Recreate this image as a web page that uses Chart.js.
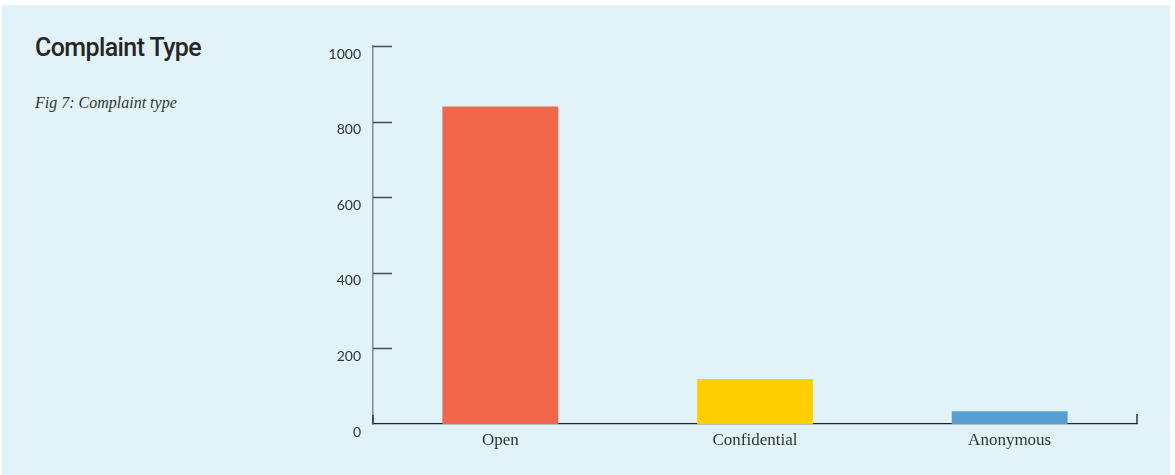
<!DOCTYPE html>
<html>
<head>
<meta charset="utf-8">
<script src="https://cdn.jsdelivr.net/npm/chart.js@4.4.1/dist/chart.umd.min.js"></script>
<style>
  html, body { margin: 0; padding: 0; background: #ffffff; width: 1175px; height: 475px; overflow: hidden; }
  #panel { position: absolute; left: 2px; top: 5px; width: 1168px; height: 470px; background: #e1f3f8; }
  #wrap { position: absolute; left: 0; top: 0; width: 1175px; height: 475px; }
  #title { position: absolute; left: 35px; top: 34px; font-family: Roboto, sans-serif; font-weight: 500; font-size: 25px; line-height: 28px; color: #262626; letter-spacing: -0.6px; white-space: nowrap; }
  #sub { position: absolute; left: 35px; top: 94px; font-family: "Liberation Serif", serif; font-style: italic; font-size: 16px; line-height: 18px; color: #333; white-space: nowrap; }
</style>
</head>
<body>
<div id="panel"></div>
<div id="title">Complaint Type</div>
<div id="sub">Fig 7: Complaint type</div>
<div id="wrap"><canvas id="c" width="1175" height="475"></canvas></div>
<script>
const categories = ['Open', 'Confidential', 'Anonymous'];
const complaintCounts = [840, 119, 34];
const barColors = ['#f2674b', '#ffcf00', '#559fd3'];
const yTickValues = [0, 200, 400, 600, 800, 1000];

const tickPlugin = {
  id: 'innerTicks',
  afterDraw(chart) {
    const ctx = chart.ctx;
    const y = chart.scales.y;
    const area = chart.chartArea;
    ctx.save();
    ctx.lineWidth = 1.5;
    ctx.strokeStyle = '#4a4a4a';
    yTickValues.forEach(v => {
      if (v === 0) return;
      const py = Math.round(y.getPixelForValue(v)) + 0.5;
      ctx.beginPath();
      ctx.moveTo(area.left, py);
      ctx.lineTo(area.left + 19, py);
      ctx.stroke();
    });
    ctx.strokeStyle = '#333';
    ctx.lineWidth = 1.5;
    ctx.beginPath();
    ctx.moveTo(area.left, area.bottom);
    ctx.lineTo(area.left, area.bottom - 9);
    ctx.moveTo(area.right, area.bottom);
    ctx.lineTo(area.right, area.bottom - 10);
    ctx.stroke();
    ctx.restore();
  }
};

new Chart(document.getElementById('c'), {
  type: 'bar',
  data: {
    labels: categories,
    datasets: [{
      data: complaintCounts,
      backgroundColor: barColors,
      borderWidth: 0,
      barPercentage: 0.455,
      categoryPercentage: 1.0
    }]
  },
  options: {
    responsive: false,
    animation: false,
    devicePixelRatio: 1,
    layout: { padding: { left: 313, right: 38, top: 46, bottom: 0 } },
    plugins: { legend: { display: false }, tooltip: { enabled: false }, title: { display: false } },
    scales: {
      x: {
        grid: { display: false, drawTicks: false },
        border: { display: true, color: '#222', width: 1.2 },
        ticks: {
          color: '#333',
          padding: 6,
          font: { family: '"Liberation Serif", serif', size: 17 }
        },
        afterFit(scale) { scale.height = 51; }
      },
      y: {
        min: 0, max: 1000,
        afterBuildTicks(scale) { scale.ticks = yTickValues.map(v => ({ value: v })); },
        grid: { display: false, drawTicks: false },
        border: { display: true, color: '#888', width: 1.5 },
        ticks: {
          color: '#333',
          padding: 12,
          labelOffset: 8,
          font: { family: 'Lato, sans-serif', size: 14 },
          callback: (v) => String(v)
        },
        afterFit(scale) { scale.width = 60; }
      }
    }
  },
  plugins: [tickPlugin]
});
</script>
</body>
</html>
